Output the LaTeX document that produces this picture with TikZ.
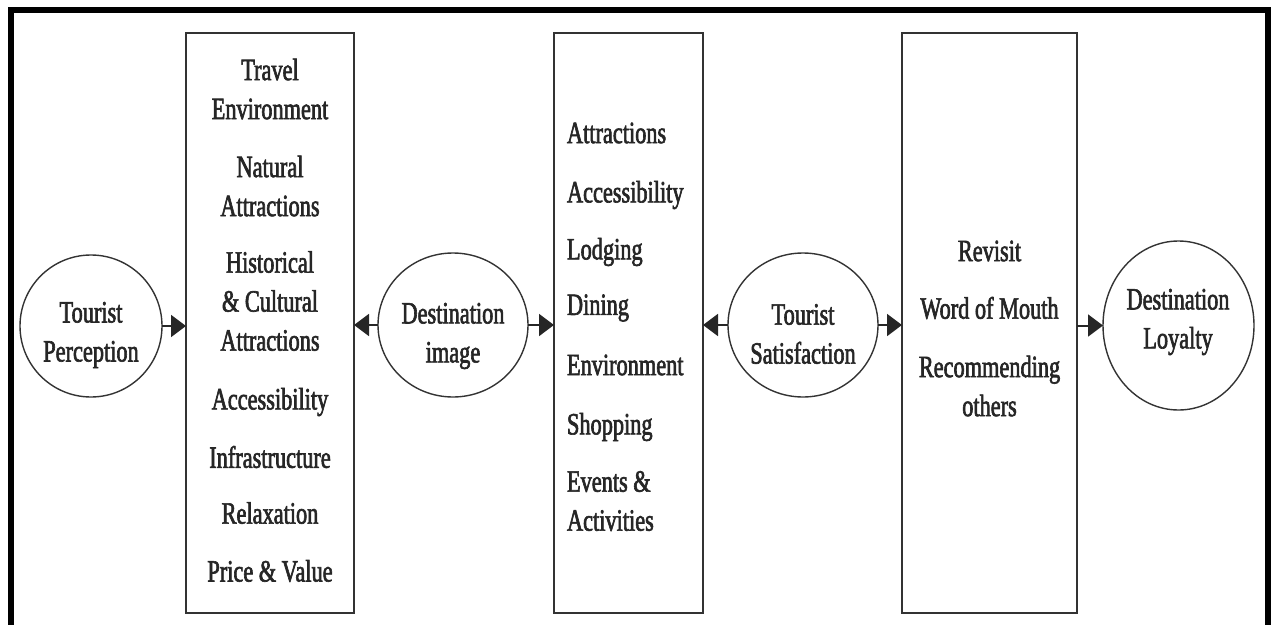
\documentclass[tikz,border=0pt]{standalone}
\usepackage{fontspec}
\setmainfont{Liberation Serif}[FakeStretch=0.72,FakeBold=2]
\usetikzlibrary{shapes.geometric,arrows.meta}

\begin{document}
\begin{tikzpicture}[y=1pt, x=1pt, yscale=-1, inner sep=0pt, outer sep=0pt,
  box/.style={draw=black!80, line width=1.6pt, rectangle, minimum height=580pt},
  disc/.style={draw=black!80, line width=1.4pt, ellipse},
  lbl/.style={align=center, font=\fontsize{31}{39}\selectfont, text=black!85},
  arr/.style={draw=black!85, line width=2pt, -{Triangle[length=15pt,width=22pt]}}]

  \useasboundingbox (0,0) rectangle (1271,624);
  % outer frame, open at the bottom
  \draw[line width=6.5pt] (11,640) -- (11,10) -- (1268,10) -- (1268,640);

  % the four constructs
  \node[disc, minimum width=142pt, minimum height=142pt] (perception) at (91,326) {};
  \node[disc, minimum width=150pt, minimum height=144pt] (image) at (453,325) {};
  \node[disc, minimum width=150pt, minimum height=144pt] (satisfaction) at (803,325) {};
  \node[disc, minimum width=151pt, minimum height=169pt] (loyalty) at (1178.5,325.5) {};

  \node[lbl] (perceptiontext) at (91,335) {Tourist\\Perception};
  \node[lbl] (imagetext) at (453,336) {Destination\\image};
  \node[lbl] (satisfactiontext) at (803,334) {Tourist\\Satisfaction};
  \node[lbl] (loyaltytext) at (1178,322) {Destination\\Loyalty};

  % the three lists
  \node[box, minimum width=168pt] (attributes) at (270,323) {};
  \node[box, minimum width=149pt] (components) at (628.5,323) {};
  \node[box, minimum width=175pt] (intentions) at (989.5,323) {};

  \node[lbl] (travel) at (270,89) {Travel\\Environment};
  \node[lbl] (natural) at (270,186) {Natural\\Attractions};
  \node[lbl] (heritage) at (270,301) {Historical\\\& Cultural\\Attractions};
  \node[lbl] (access) at (270,402) {Accessibility};
  \node[lbl] (infra) at (270,457) {Infrastructure};
  \node[lbl] (relax) at (270,513) {Relaxation};
  \node[lbl] (price) at (270,571) {Price \& Value};

  \node[lbl, anchor=west, align=left] (attract) at (567,133) {Attractions};
  \node[lbl, anchor=west, align=left] (reach) at (567,195) {Accessibility};
  \node[lbl, anchor=west, align=left] (lodging) at (567,252) {Lodging};
  \node[lbl, anchor=west, align=left] (dining) at (567,308) {Dining};
  \node[lbl, anchor=west, align=left] (environ) at (567,365) {Environment};
  \node[lbl, anchor=west, align=left] (shopping) at (567,427) {Shopping};
  \node[lbl, anchor=west, align=left] (events) at (567,501) {Events \&\\Activities};

  \node[lbl] (revisit) at (989.5,251) {Revisit};
  \node[lbl] (mouth) at (989.5,308) {Word of Mouth};
  \node[lbl] (recommend) at (989.5,386) {Recommending\\others};

  % links
  \draw[arr] (perception.east) -- (perception.east -| attributes.west);
  \draw[arr] (image.west) -- (image.west -| attributes.east);
  \draw[arr] (image.east) -- (image.east -| components.west);
  \draw[arr] (satisfaction.west) -- (satisfaction.west -| components.east);
  \draw[arr] (satisfaction.east) -- (satisfaction.east -| intentions.west);
  \draw[arr] (intentions.east |- loyalty.west) -- (loyalty.west);

\end{tikzpicture}
\end{document}
